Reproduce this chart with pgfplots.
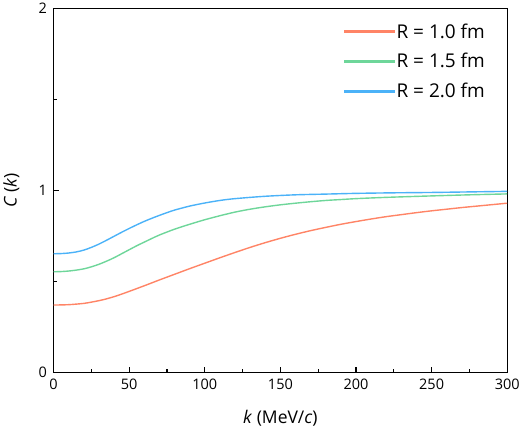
\documentclass[border=0pt]{standalone}
\usepackage{pgfplots}
\pgfplotsset{compat=1.18}
\usepackage{fontspec}
\setmainfont{Open Sans}

\definecolor{cRone}{HTML}{FF8466}
\definecolor{cRtwo}{HTML}{6ED69A}
\definecolor{cRthree}{HTML}{4BB2F8}

\begin{document}
\begin{tikzpicture}
\begin{axis}[
  scale only axis,
  width=454pt,
  height=364pt,
  xmin=0, xmax=300,
  ymin=0, ymax=2,
  xtick={0,50,100,150,200,250,300},
  ytick={0,1,2},
  minor x tick num=1,
  minor y tick num=1,
  xtick pos=bottom,
  ytick pos=left,
  tick align=inside,
  major tick length=5pt,
  minor tick length=3pt,
  axis line style={black, line width=1.2pt},
  tick style={black, line width=1.2pt},
  tick label style={font=\fontsize{14.5}{17}\selectfont},
  xticklabel style={yshift=-3pt},
  yticklabel style={xshift=-3pt},
  /pgf/number format/assume math mode=true,
  label style={font=\fontsize{17.5}{20}\selectfont},
  xlabel={\textit{k} (MeV/\textit{c})},
  ylabel={\textit{C} (\textit{k})},
  xlabel style={at={(axis description cs:0.5,-0.127)}, anchor=center},
  ylabel style={at={(axis description cs:-0.093,0.5)}, anchor=center},
  legend cell align={left},
  legend style={at={(0.962,0.970)}, anchor=north east, draw=none, fill=none,
    font=\fontsize{19}{22}\selectfont, row sep=9.7pt},
  legend image code/.code={\fill[#1] (0pt,-0.75pt) rectangle (49pt,0.75pt);},
  every axis plot/.append style={line width=1.4pt, no marks, smooth},
]
% R = 1.0 fm
\addplot[color=cRone] coordinates {
(0,0.370) (10,0.372) (20,0.379) (25,0.386) (30,0.394) (35,0.404) (40,0.416)
(45,0.430) (50,0.445) (60,0.476) (70,0.508) (80,0.539) (90,0.570) (100,0.600)
(110,0.630) (120,0.659) (130,0.687) (140,0.713) (150,0.737) (160,0.759) (170,0.779)
(180,0.797) (190,0.814) (200,0.829) (210,0.843) (220,0.856) (230,0.867) (240,0.878)
(250,0.888) (260,0.897) (270,0.906) (280,0.914) (290,0.922) (300,0.930)};
\addlegendentry{R = 1.0 fm}
% R = 1.5 fm
\addplot[color=cRtwo] coordinates {
(0,0.553) (5,0.554) (10,0.557) (15,0.562) (20,0.569) (25,0.580) (30,0.594)
(35,0.611) (40,0.630) (45,0.652) (50,0.674) (55,0.696) (60,0.716) (65,0.736)
(70,0.755) (80,0.787) (90,0.814) (100,0.839) (110,0.861) (120,0.881) (130,0.897)
(140,0.910) (150,0.921) (160,0.930) (170,0.938) (180,0.945) (190,0.950) (200,0.955)
(220,0.962) (250,0.970) (275,0.976) (300,0.981)};
\addlegendentry{R = 1.5 fm}
% R = 2.0 fm
\addplot[color=cRthree] coordinates {
(0,0.652) (5,0.653) (10,0.656) (15,0.662) (20,0.672) (25,0.687) (30,0.705)
(35,0.726) (40,0.748) (45,0.770) (50,0.791) (55,0.811) (60,0.830) (65,0.847)
(70,0.863) (75,0.878) (80,0.892) (90,0.914) (100,0.931) (110,0.945) (120,0.955)
(140,0.968) (160,0.976) (180,0.980) (200,0.984) (225,0.987) (250,0.989) (275,0.992)
(300,0.995)};
\addlegendentry{R = 2.0 fm}
\end{axis}
\end{tikzpicture}
\end{document}
